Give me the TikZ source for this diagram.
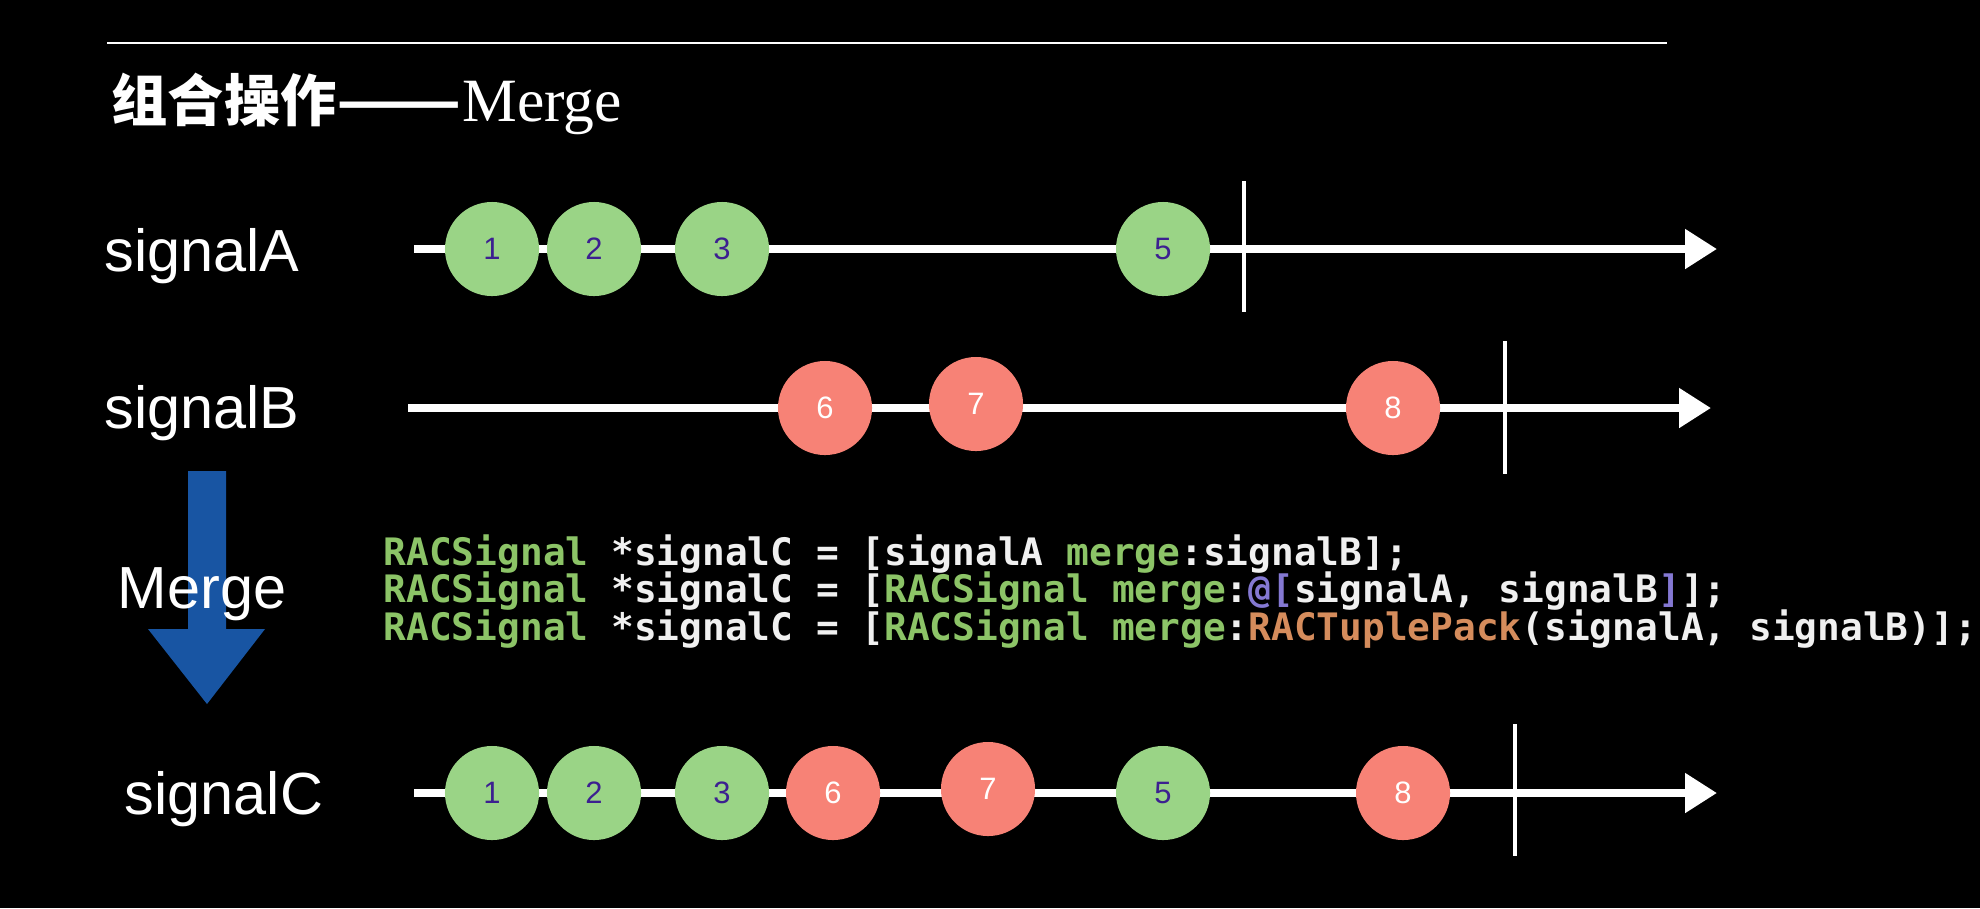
\documentclass[tikz,border=0pt]{standalone}
\usepackage{fontspec}
\setmainfont{Liberation Sans}
\newfontfamily\cjkfont{Noto Sans CJK SC}
\newfontfamily\serifont{Liberation Serif}
\newfontfamily\codefont{DejaVu Sans Mono}
\usetikzlibrary{arrows.meta}
\definecolor{evgreen}{HTML}{9AD486}
\definecolor{evred}{HTML}{F78276}
\definecolor{evnum}{HTML}{3C2090}
\definecolor{cgreen}{HTML}{8CC467}
\definecolor{cwhite}{HTML}{F0F0F0}
\definecolor{cpurple}{HTML}{8478D2}
\definecolor{corange}{HTML}{D58C5C}
\definecolor{mblue}{HTML}{1855A3}
\tikzset{timeline/.style={white, line width=2.3pt, -{Triangle[length=0.32cm,width=0.38cm]}},
         endbar/.style={white, line width=1.2pt},
         evA/.style={circle, fill=evgreen, minimum size=0.94cm, inner sep=0pt,
                     text=evnum, font=\fontsize{8.8}{9}\selectfont},
         evB/.style={evA, fill=evred, text=white},
         sig/.style={text=white, font=\fontsize{16.9}{18}\selectfont},
         code/.style={anchor=west, inner sep=0pt, text=cwhite,
                      font=\codefont\bfseries\fontsize{10.75}{12}\selectfont}}

\begin{document}
\begin{tikzpicture}[x=0.01cm, y=-0.01cm]
  \fill[black] (0,0) rectangle (1980,908);
  \useasboundingbox (0,0) rectangle (1980,908);

  % heading
  \coordinate (hL) at (107,43);
  \coordinate (hR) at (1667,43);
  \draw[white, line width=0.6pt] (hL) -- (hR);
  \node[anchor=west, inner sep=0pt, text=white] (title) at (111,104)
    {{\cjkfont\bfseries\fontsize{16}{18}\selectfont 组合操作\scalebox{1.3}[1]{——}}{\serifont\fontsize{17.5}{18}\selectfont Merge}};

  % signal A
  \node[sig] (labA) at (202,256) {signalA};
  \coordinate (aS) at (414,249);
  \coordinate (aE) at (1717,249);
  \draw[timeline] (aS) -- (aE);
  \coordinate (aT) at (1244,181);
  \coordinate (aB) at (1244,312);
  \draw[endbar] (aT) -- (aB);
  \foreach \x/\n in {492/1,594/2,722/3,1163/5}
    \node[evA] (a\n) at (\x,249) {\n};

  % signal B
  \node[sig] (labB) at (202,413) {signalB};
  \coordinate (bS) at (408,408);
  \coordinate (bE) at (1711,408);
  \draw[timeline] (bS) -- (bE);
  \coordinate (bT) at (1505,341);
  \coordinate (bB) at (1505,474);
  \draw[endbar] (bT) -- (bB);
  \foreach \x/\y/\n in {825/408/6,976/404/7,1393/408/8}
    \node[evB] (b\n) at (\x,\y) {\n};

  % merge arrow
  \fill[mblue] (188,471) -- (226,471) -- (226,629) -- (265,629) -- (207,704)
    -- (148,629) -- (188,629) -- cycle;
  \node[sig] (labM) at (202,594) {Merge};

  % code
  \node[code] (code1) at (383,554)
    {{\color{cgreen}RACSignal} *signalC = [signalA {\color{cgreen}merge}:signalB];};
  \node[code] (code2) at (383,591)
    {{\color{cgreen}RACSignal} *signalC = [{\color{cgreen}RACSignal merge}:{\color{cpurple}@[}signalA, signalB{\color{cpurple}]}];};
  \node[code] (code3) at (383,629)
    {{\color{cgreen}RACSignal} *signalC = [{\color{cgreen}RACSignal merge}:{\color{corange}RACTuplePack}(signalA, signalB)];};

  % signal C
  \node[sig] (labC) at (224,799) {signalC};
  \coordinate (cS) at (414,793);
  \coordinate (cE) at (1717,793);
  \draw[timeline] (cS) -- (cE);
  \coordinate (cT) at (1515,724);
  \coordinate (cB) at (1515,856);
  \draw[endbar] (cT) -- (cB);
  \foreach \x/\n in {492/1,594/2,722/3,1163/5}
    \node[evA] (c\n) at (\x,793) {\n};
  \foreach \x/\y/\n in {833/793/6,988/789/7,1403/793/8}
    \node[evB] (c\n) at (\x,\y) {\n};
\end{tikzpicture}
\end{document}
